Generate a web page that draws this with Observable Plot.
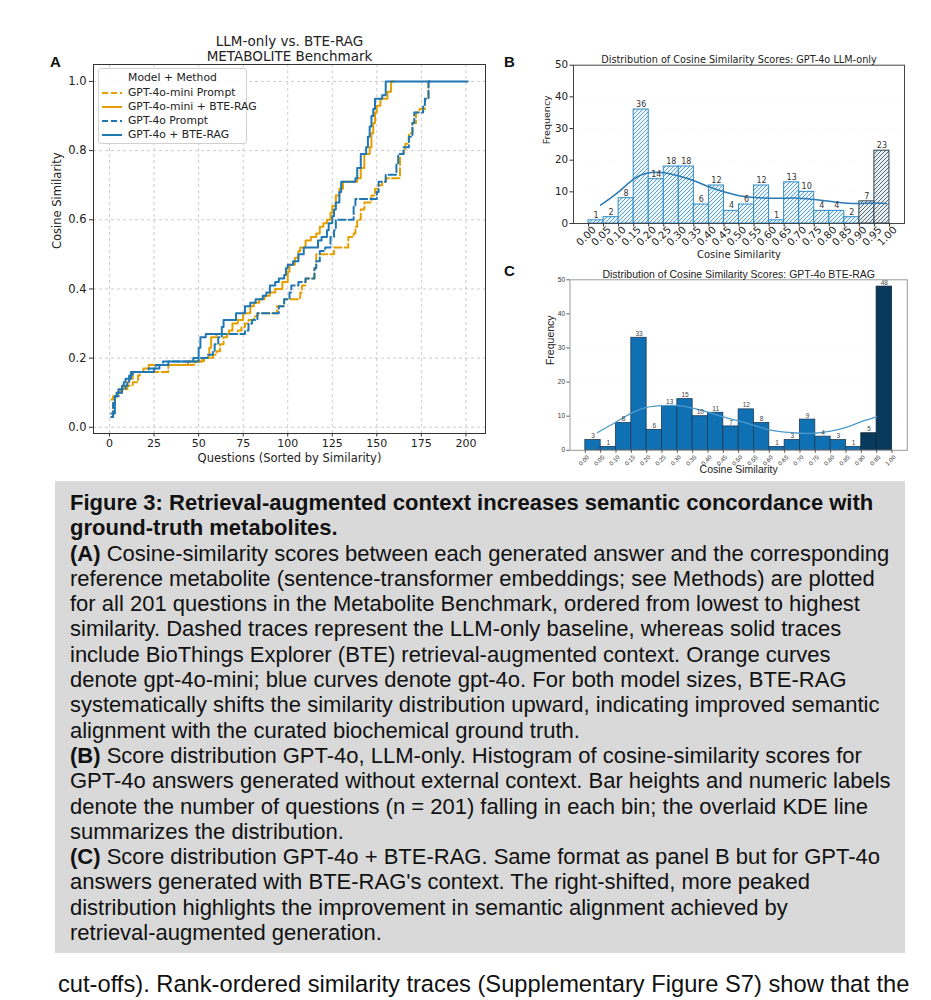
<!DOCTYPE html>
<html><head><meta charset="utf-8">
<script src="https://cdn.jsdelivr.net/npm/d3@7"></script>
<script src="https://cdn.jsdelivr.net/npm/@observablehq/plot@0.6"></script>
<style>
body{margin:0;background:#fff;width:931px;height:1000px;overflow:hidden;position:relative;}
.abs{position:absolute;}
.letter{position:absolute;font-family:"Liberation Sans",Arial,sans-serif;font-weight:bold;font-size:15px;line-height:15px;color:#111;}
#legendA{position:absolute;left:98px;top:68px;width:147px;height:74px;border:1px solid #d0d0d0;border-radius:3px;background:rgba(255,255,255,0.85);font-family:"DejaVu Sans",sans-serif;font-size:10.8px;color:#222;}
#legendA .row{position:absolute;left:3px;height:12px;line-height:12px;white-space:nowrap;}
#legendA .row svg{vertical-align:middle;margin-right:6px;}
#caption{position:absolute;left:55px;top:481px;width:850px;height:472px;background:#d9d9d9;box-sizing:border-box;padding:9px 0 0 15px;font-family:"Liberation Sans",Arial,sans-serif;font-size:22px;line-height:25.3px;color:#111;white-space:nowrap;}
#bodyline{position:absolute;left:58px;top:971px;font-family:"Liberation Sans",Arial,sans-serif;font-size:23.7px;line-height:27px;color:#111;white-space:nowrap;}
</style></head><body>
<svg width="0" height="0" style="position:absolute">
  <defs>
    <pattern id="hatchBlue" patternUnits="userSpaceOnUse" width="4" height="4">
      <rect width="4" height="4" fill="#eef6fb"/>
      <path d="M-1,1 l2,-2 M0,4 l4,-4 M3,5 l2,-2" stroke="#2f8bc6" stroke-width="0.8"/>
    </pattern>
    <pattern id="hatchDark" patternUnits="userSpaceOnUse" width="4" height="4">
      <rect width="4" height="4" fill="#e9eef1"/>
      <path d="M-1,1 l2,-2 M0,4 l4,-4 M3,5 l2,-2" stroke="#2c4656" stroke-width="0.8"/>
    </pattern>
  </defs>
</svg>
<div id="panelA" class="abs" style="left:0;top:0"></div>
<div id="panelB" class="abs" style="left:500px;top:40px"></div>
<div id="panelC" class="abs" style="left:500px;top:260px"></div>
<div class="letter" style="left:50px;top:54px">A</div>
<div class="letter" style="left:504px;top:54px">B</div>
<div class="letter" style="left:504px;top:263px">C</div>
<div id="legendA"></div>
<div id="caption"></div>
<div id="bodyline">cut-offs). Rank-ordered similarity traces (Supplementary Figure S7) show that the</div>
<script>
// ---------- Panel A data: rank-ordered cosine similarity (step breakpoints: [question rank, similarity]) ----------
const seriesNames = ["GPT-4o-mini Prompt", "GPT-4o-mini + BTE-RAG", "GPT-4o Prompt", "GPT-4o + BTE-RAG"];
const miniPrompt = [[1,0.03],[2,0.07],[3,0.09],[5,0.10],[7,0.11],[10,0.12],[13,0.13],[16,0.15],[17,0.16],[33,0.18],[48,0.19],[53,0.20],[58,0.21],[60,0.22],[62,0.24],[64,0.26],[66,0.27],[72,0.28],[74,0.29],[76,0.30],[78,0.31],[81,0.32],[83,0.33],[94,0.35],[98,0.37],[107,0.39],[108,0.41],[110,0.43],[115,0.46],[116,0.50],[126,0.52],[134,0.55],[137,0.56],[138,0.58],[139,0.60],[141,0.63],[143,0.65],[147,0.67],[149,0.69],[151,0.70],[153,0.71],[155,0.72],[163,0.79],[165,0.80],[166,0.82],[168,0.85],[170,0.88],[172,0.91],[174,0.92],[177,0.95],[179,1.0],[180,1.0]];
const miniRag = [[1,0.08],[2,0.09],[4,0.10],[6,0.11],[8,0.12],[10,0.13],[11,0.14],[13,0.16],[19,0.17],[22,0.18],[44,0.19],[52,0.20],[56,0.23],[57,0.26],[60,0.27],[67,0.28],[69,0.30],[72,0.31],[75,0.33],[79,0.35],[81,0.36],[84,0.37],[87,0.38],[90,0.39],[93,0.40],[97,0.42],[100,0.45],[101,0.47],[104,0.49],[106,0.51],[107,0.52],[110,0.54],[113,0.55],[116,0.56],[118,0.58],[120,0.59],[122,0.60],[124,0.62],[125,0.64],[127,0.67],[129,0.69],[131,0.71],[139,0.72],[141,0.75],[143,0.79],[146,0.81],[147,0.85],[148,0.88],[149,0.91],[150,0.93],[152,0.95],[156,0.97],[158,1.0],[160,1.0]];
const gpt4oPrompt = [[1,0.03],[2,0.07],[3,0.09],[5,0.10],[7,0.11],[9,0.12],[10,0.13],[11,0.14],[12,0.15],[13,0.16],[22,0.17],[26,0.18],[30,0.19],[50,0.20],[55,0.21],[58,0.22],[59,0.24],[61,0.26],[63,0.27],[76,0.28],[78,0.30],[80,0.31],[83,0.33],[95,0.35],[98,0.37],[101,0.39],[102,0.41],[106,0.42],[110,0.43],[115,0.46],[116,0.48],[118,0.51],[121,0.52],[124,0.55],[126,0.57],[127,0.60],[137,0.64],[138,0.66],[150,0.68],[151,0.71],[155,0.73],[161,0.76],[162,0.79],[165,0.81],[168,0.84],[170,0.88],[171,0.91],[176,0.93],[177,0.95],[179,1.0],[180,1.0]];
const gpt4oRag = [[1,0.04],[3,0.09],[4,0.10],[5,0.11],[7,0.12],[8,0.13],[9,0.14],[11,0.15],[12,0.16],[25,0.17],[28,0.18],[33,0.19],[47,0.20],[50,0.23],[51,0.26],[54,0.27],[63,0.29],[64,0.31],[71,0.33],[76,0.35],[79,0.36],[82,0.37],[86,0.38],[88,0.39],[90,0.41],[93,0.42],[95,0.43],[98,0.44],[99,0.46],[100,0.47],[103,0.48],[106,0.50],[109,0.52],[117,0.54],[119,0.55],[122,0.57],[123,0.59],[125,0.61],[126,0.63],[127,0.65],[129,0.68],[130,0.71],[138,0.72],[139,0.75],[141,0.79],[144,0.81],[145,0.84],[146,0.87],[147,0.90],[148,0.92],[149,0.95],[153,0.96],[155,1.0],[201,1.0]];
const xTicksA = [0, 25, 50, 75, 100, 125, 150, 175, 200];
const yTicksA = [0.0, 0.2, 0.4, 0.6, 0.8, 1.0];

// ---------- Panels B and C data: histogram bins, counts and KDE readings ----------
const binLow = [0.00,0.05,0.10,0.15,0.20,0.25,0.30,0.35,0.40,0.45,0.50,0.55,0.60,0.65,0.70,0.75,0.80,0.85,0.90,0.95];
const binTicks = [0.00,0.05,0.10,0.15,0.20,0.25,0.30,0.35,0.40,0.45,0.50,0.55,0.60,0.65,0.70,0.75,0.80,0.85,0.90,0.95,1.00];
const countsB = [1,2,8,36,14,18,18,6,12,4,6,12,1,13,10,4,4,2,7,23];
const countsC = [3,1,8,33,6,13,15,10,11,7,12,8,1,3,9,4,3,1,5,48];
const kdeBx = [0.04,0.10,0.15,0.20,0.25,0.30,0.35,0.40,0.45,0.50,0.55,0.60,0.65,0.70,0.75,0.80,0.85,0.90,0.95,0.99];
const kdeBy = [5.8,10.0,14.0,16.0,16.0,15.0,13.5,11.6,10.0,8.8,8.2,8.0,8.0,8.0,7.6,7.0,6.5,6.3,6.5,6.3];
const kdeCx = [0.04,0.10,0.15,0.20,0.25,0.30,0.35,0.40,0.45,0.50,0.55,0.60,0.65,0.70,0.75,0.80,0.85,0.90,0.95];
const kdeCy = [5.2,8.3,10.9,12.6,13.1,13.1,12.4,11.2,9.8,8.6,7.3,6.0,5.3,5.0,5.0,5.6,6.7,8.4,9.8];
const yTicksHist = [0, 10, 20, 30, 40, 50];

// ---------- Styles ----------
const orange = "#E69F00", blue = "#1f77b4";
const dashed = "7.4,3.2";
const seriesStyle = [
  {data: miniPrompt, stroke: orange, dash: dashed},
  {data: miniRag, stroke: orange, dash: null},
  {data: gpt4oPrompt, stroke: blue, dash: dashed},
  {data: gpt4oRag, stroke: blue, dash: null}
];
const fmt2 = d3.format(".2f");
const toRows = (arr) => arr.map(([q, v]) => ({q, v}));

// ---------- Panel A ----------
const plotA = Plot.plot({
  width: 500, height: 480,
  marginLeft: 93, marginRight: 15, marginTop: 64, marginBottom: 47,
  style: {fontFamily: "DejaVu Sans, sans-serif", fontSize: "11px", color: "#222", background: "transparent", overflow: "visible"},
  x: {domain: [-9, 211]},
  y: {domain: [-0.018, 1.049]},
  marks: [
    Plot.gridX(xTicksA, {stroke: "#b8b8b8", strokeOpacity: 0.9, strokeDasharray: "3,3", strokeWidth: 0.8}),
    Plot.gridY(yTicksA, {stroke: "#b8b8b8", strokeOpacity: 0.9, strokeDasharray: "3,3", strokeWidth: 0.8}),
    ...seriesStyle.map(s => Plot.line(toRows(s.data), {x: "q", y: "v", curve: "step-after", stroke: s.stroke, strokeWidth: 2, strokeDasharray: s.dash ?? undefined})),
    Plot.frame({stroke: "#333", strokeWidth: 1}),
    Plot.axisX(xTicksA, {tickSize: 3.5, tickPadding: 2, label: null, fontSize: 11, stroke: "#333"}),
    Plot.axisY(yTicksA, {tickSize: 4, tickPadding: 3, label: null, fontSize: 11.5, tickFormat: d3.format(".1f"), stroke: "#333"}),
    Plot.text(["LLM-only vs. BTE-RAG"], {text: d => d, frameAnchor: "top", dy: -28, fontSize: 13.5}),
    Plot.text(["METABOLITE Benchmark"], {text: d => d, frameAnchor: "top", dy: -13, fontSize: 13.5}),
    Plot.text(["Questions (Sorted by Similarity)"], {text: d => d, frameAnchor: "bottom", dy: 28.5, fontSize: 11.5}),
    Plot.text(["Cosine Similarity"], {text: d => d, frameAnchor: "left", dx: -36, rotate: -90, fontSize: 11.5})
  ]
});
document.getElementById("panelA").appendChild(plotA);

// Legend for panel A
const legend = document.getElementById("legendA");
legend.innerHTML = `<div style="position:absolute;left:0;width:100%;top:3px;height:12px;line-height:12px;text-align:center;">Model + Method</div>` +
  seriesNames.map((name, i) => {
    const s = seriesStyle[i];
    return `<div class="row" style="top:${18 + i * 14}px"><svg width="20" height="6"><line x1="0" y1="3" x2="20" y2="3" stroke="${s.stroke}" stroke-width="2" ${s.dash ? `stroke-dasharray="6,3"` : ""}/></svg>${name}</div>`;
  }).join("");

// ---------- Panel B ----------
const binsB = binLow.map((lo, i) => ({lo, hi: lo + 0.05, mid: lo + 0.025, count: countsB[i]}));
const kdeB = kdeBx.map((x, i) => ({x, y: kdeBy[i]}));
const plotB = Plot.plot({
  width: 420, height: 230,
  marginLeft: 73, marginRight: 16, marginTop: 24.7, marginBottom: 47,
  style: {fontFamily: "DejaVu Sans, sans-serif", fontSize: "10px", color: "#222", background: "transparent", overflow: "visible"},
  x: {domain: [-0.05, 1.05]},
  y: {domain: [0, 50]},
  marks: [
    Plot.gridY([10, 20, 30, 40], {stroke: "#c8c8c8", strokeDasharray: "3,2", strokeWidth: 0.8}),
    Plot.rectY(binsB.filter(d => d.lo < 0.9), {x1: "lo", x2: "hi", y: "count", fill: "url(#hatchBlue)", stroke: "#2f8bc6", strokeWidth: 1}),
    Plot.rectY(binsB.filter(d => d.lo >= 0.9), {x1: "lo", x2: "hi", y: "count", fill: "url(#hatchDark)", stroke: "#2c4656", strokeWidth: 1}),
    Plot.line(kdeB, {x: "x", y: "y", curve: "natural", stroke: "#2a7ab5", strokeWidth: 1.5}),
    Plot.text(binsB, {x: "mid", y: "count", text: d => String(d.count), dy: -5, fontSize: 8, fill: "#333"}),
    Plot.frame({stroke: "#444", strokeWidth: 1}),
    Plot.axisX(binTicks, {tickSize: 3.5, label: null, tickFormat: () => "", stroke: "#333"}),
    Plot.text(binTicks, {x: d => d, text: d => fmt2(d), frameAnchor: "bottom", dy: 15, rotate: -45, textAnchor: "middle", fontSize: 10.2, fill: "#222"}),
    Plot.axisY(yTicksHist, {tickSize: 3.5, tickPadding: 2, label: null, fontSize: 10.3, stroke: "#333"}),
    Plot.text(["Distribution of Cosine Similarity Scores: GPT-4o LLM-only"], {text: d => d, frameAnchor: "top", dy: -9, fontSize: 9.7}),
    Plot.text(["Cosine Similarity"], {text: d => d, frameAnchor: "bottom", dy: 34, fontSize: 10}),
    Plot.text(["Frequency"], {text: d => d, frameAnchor: "left", dx: -27, rotate: -90, fontSize: 9.5})
  ]
});
document.getElementById("panelB").appendChild(plotB);

// ---------- Panel C ----------
const binsC = binLow.map((lo, i) => ({lo, hi: lo + 0.05, mid: lo + 0.025, count: countsC[i]}));
const kdeC = kdeCx.map((x, i) => ({x, y: kdeCy[i]}));
const plotC = Plot.plot({
  width: 420, height: 220,
  marginLeft: 69.5, marginRight: 13.2, marginTop: 19.3, marginBottom: 30.2,
  style: {fontFamily: "Liberation Sans, Arial, sans-serif", fontSize: "7px", color: "#333", background: "transparent", overflow: "visible"},
  x: {domain: [-0.05, 1.05]},
  y: {domain: [0, 50]},
  marks: [
    Plot.gridY([10, 20, 30, 40], {stroke: "#e4e4e4", strokeWidth: 1}),
    Plot.rectY(binsC.filter(d => d.lo < 0.9), {x1: "lo", x2: "hi", y: "count", fill: "#1070b4", stroke: "#1b3a55", strokeWidth: 0.8}),
    Plot.rectY(binsC.filter(d => d.lo >= 0.9), {x1: "lo", x2: "hi", y: "count", fill: "#083a5e", stroke: "#0d2233", strokeWidth: 0.8}),
    Plot.line(kdeC, {x: "x", y: "y", curve: "natural", stroke: "#4d9acb", strokeWidth: 1.3}),
    Plot.text(binsC, {x: "mid", y: "count", text: d => String(d.count), dy: -4, fontSize: 6.5, fill: "#444"}),
    Plot.frame({stroke: "#999", strokeWidth: 1}),
    Plot.axisX(binTicks, {tickSize: 3, label: null, tickFormat: () => "", stroke: "#555"}),
    Plot.text(binTicks, {x: d => d, text: d => fmt2(d), frameAnchor: "bottom", dy: 11.5, rotate: -45, textAnchor: "middle", fontSize: 6, fill: "#333"}),
    Plot.axisY(yTicksHist, {tickSize: 3, tickPadding: 2, label: null, fontSize: 6.5, stroke: "#555"}),
    Plot.text(["Distribution of Cosine Similarity Scores: GPT-4o BTE-RAG"], {text: d => d, frameAnchor: "top", dy: -9, fontSize: 10.5, fill: "#222"}),
    Plot.text(["Cosine Similarity"], {text: d => d, frameAnchor: "bottom", dy: 23, fontSize: 10.5, fill: "#222"}),
    Plot.text(["Frequency"], {text: d => d, frameAnchor: "left", dx: -19, rotate: -90, fontSize: 10.5, fill: "#222"})
  ]
});
document.getElementById("panelC").appendChild(plotC);

// ---------- Caption ----------
const captionLines = [
  ["b", "Figure 3: Retrieval-augmented context increases semantic concordance with"],
  ["b", "ground-truth metabolites."],
  ["A", "Cosine-similarity scores between each generated answer and the corresponding"],
  ["", "reference metabolite (sentence-transformer embeddings; see Methods) are plotted"],
  ["", "for all 201 questions in the Metabolite Benchmark, ordered from lowest to highest"],
  ["", "similarity. Dashed traces represent the LLM-only baseline, whereas solid traces"],
  ["", "include BioThings Explorer (BTE) retrieval-augmented context. Orange curves"],
  ["", "denote gpt-4o-mini; blue curves denote gpt-4o. For both model sizes, BTE-RAG"],
  ["", "systematically shifts the similarity distribution upward, indicating improved semantic"],
  ["", "alignment with the curated biochemical ground truth."],
  ["B", "Score distribution GPT-4o, LLM-only. Histogram of cosine-similarity scores for"],
  ["", "GPT-4o answers generated without external context. Bar heights and numeric labels"],
  ["", "denote the number of questions (n = 201) falling in each bin; the overlaid KDE line"],
  ["", "summarizes the distribution."],
  ["C", "Score distribution GPT-4o + BTE-RAG. Same format as panel B but for GPT-4o"],
  ["", "answers generated with BTE-RAG's context. The right-shifted, more peaked"],
  ["", "distribution highlights the improvement in semantic alignment achieved by"],
  ["", "retrieval-augmented generation."]
];
document.getElementById("caption").innerHTML = captionLines.map(([k, t]) => {
  if (k === "b") return `<div><b>${t}</b></div>`;
  if (k) return `<div><b>(${k})</b> ${t}</div>`;
  return `<div>${t}</div>`;
}).join("");
</script>
</body></html>
